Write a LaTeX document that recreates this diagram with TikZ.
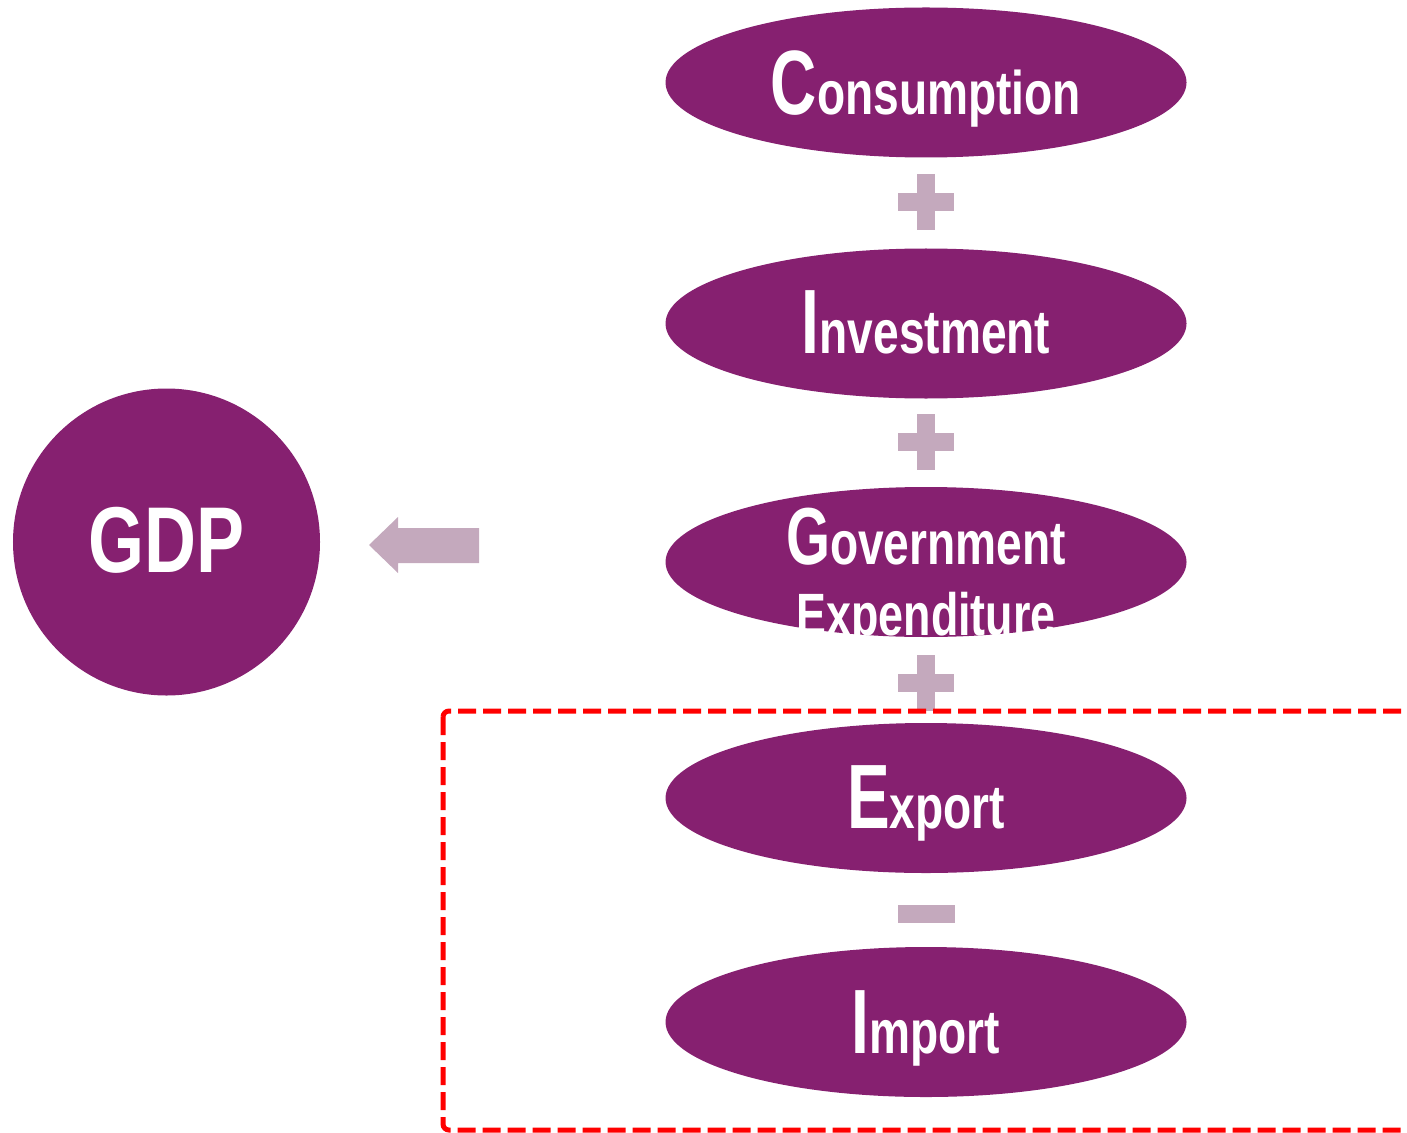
\documentclass[tikz,border=0pt]{standalone}
\usepackage{fontspec}
\usepackage{xcolor}
\usepackage{tikz}
\usetikzlibrary{shapes.geometric, positioning}
\newfontfamily\wordfont[FakeStretch=0.75]{Liberation Sans}
\newfontfamily\initfont[FakeStretch=0.70]{Liberation Sans}
\newfontfamily\gdpfont[FakeStretch=0.77]{Liberation Sans}
\definecolor{gdppurple}{HTML}{862070}
\definecolor{signmauve}{HTML}{C4A9BD}
\definecolor{framered}{HTML}{FF0000}
\newcommand{\initial}[2][26]{{\initfont\bfseries\fontsize{#1}{#1}\selectfont #2}}

\begin{document}
\begin{tikzpicture}[
    component/.style={
        ellipse,
        fill=gdppurple,
        inner sep=0pt,
        minimum width=5.21cm,
        minimum height=1.50cm
    },
    word/.style={
        text=white,
        inner sep=0pt,
        anchor=base,
        font=\wordfont\bfseries\fontsize{17.5}{20}\selectfont
    },
    total/.style={
        circle,
        fill=gdppurple,
        inner sep=0pt,
        minimum size=3.07cm
    },
    signbar/.style={
        draw=signmauve,
        line width=0.18cm
    },
    redframe/.style={
        draw=framered,
        line width=0.05cm,
        dash pattern=on 0.18cm off 0.07cm,
        rounded corners=0.06cm
    }
]
\useasboundingbox (0,0) rectangle (14.07,-11.32);

% GDP circle
\node[total] (gdp) at (1.665,-5.42) {};
\node[word, yshift=-0.30cm, font=\gdpfont\bfseries\fontsize{26.6}{28}\selectfont] (gdptext) at (gdp) {GDP};

% Components of the sum
\node[component] (cons) at (9.26,-0.825) {};
\node[component] (inv) at (9.26,-3.235) {};
\node[component] (gov) at (9.26,-5.62) {};
\node[component] (export) at (9.26,-7.98) {};
\node[component] (import) at (9.26,-10.22) {};

\node[word, yshift=-0.32cm] (constext) at (cons) {\initial{C}onsumption};
\node[word, yshift=-0.30cm] (invtext) at (inv) {\initial{I}nvestment};
\node[word, yshift=-0.02cm] (govtext) at (gov) {\initial[23]{G}overnment};
\node[word, yshift=-0.73cm, font=\wordfont\bfseries\fontsize{17}{20}\selectfont] (govtextb) at (gov) {Expenditure};
\node[word, yshift=-0.30cm] (exporttext) at (export) {\initial{E}xport};
\node[word, yshift=-0.31cm] (importtext) at (import) {\initial{I}mport};

% Plus and minus signs
\draw[signbar] (9.26,-1.74) -- ++(0,-0.56);
\draw[signbar] (8.98,-2.02) -- ++(0.56,0);
\draw[signbar] (9.26,-4.14) -- ++(0,-0.56);
\draw[signbar] (8.98,-4.42) -- ++(0.56,0);
\draw[signbar] (9.26,-6.55) -- ++(0,-0.56);
\draw[signbar] (8.98,-6.83) -- ++(0.56,0);
\draw[signbar] (8.98,-9.14) -- ++(0.57,0);

% Net exports frame
\draw[redframe] (4.43,-7.11) rectangle (14.60,-11.30);

% Block arrow into GDP
\coordinate (tip) at (3.69,-5.45);
\fill[signmauve] (tip) -- ++(0.29,0.28) -- ++(0,-0.11) -- ++(0.81,0)
    -- ++(0,-0.35) -- ++(-0.81,0) -- ++(0,-0.10) -- cycle;

\end{tikzpicture}
\end{document}
